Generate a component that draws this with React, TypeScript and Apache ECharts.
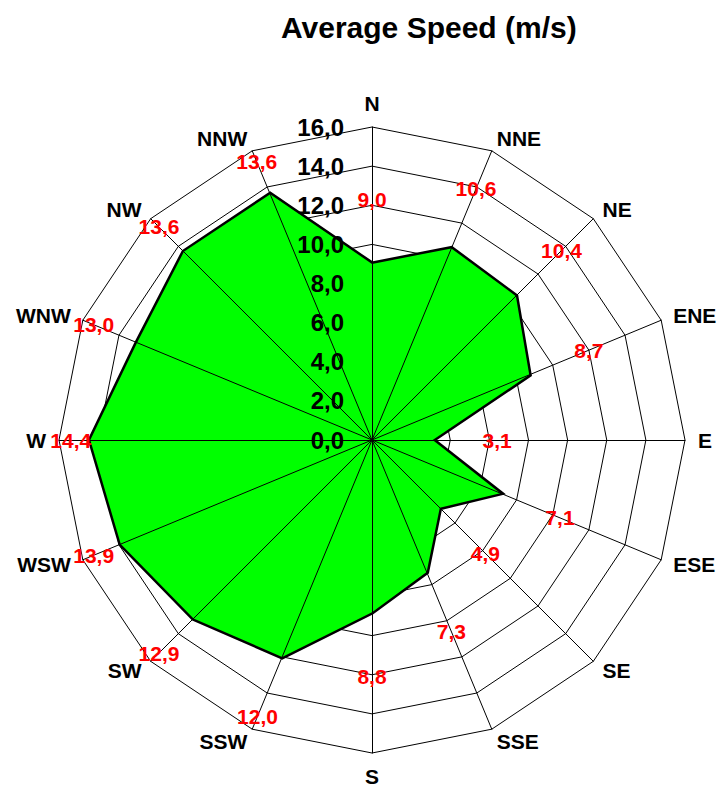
import React, { useEffect, useRef } from "react";
import * as echarts from "echarts";

const directions = ["N", "NNE", "NE", "ENE", "E", "ESE", "SE", "SSE", "S", "SSW", "SW", "WSW", "W", "WNW", "NW", "NNW"];
const speeds = [9.0, 10.6, 10.4, 8.7, 3.1, 7.1, 4.9, 7.3, 8.8, 12.0, 12.9, 13.9, 14.4, 13.0, 13.6, 13.6];
const axisMin = 0;
const axisMax = 16;
const axisStep = 2;
const titleText = "Average Speed (m/s)";

const FONT = "Liberation Sans, Arial, sans-serif";
const fmt = (v: number) => v.toFixed(1).replace(".", ",");

export default function App() {
  const ref = useRef<HTMLDivElement>(null);
  useEffect(() => {
    if (!ref.current) return;
    const chart = echarts.init(ref.current, null, { renderer: "svg" });
    // ECharts radar runs counter-clockwise: reorder so that it reads N, NNE, ... clockwise
    const order = directions.map((_, i) => (i === 0 ? 0 : directions.length - i));
    const names = order.map((i) => directions[i]);
    const vals = order.map((i) => speeds[i]);
    const labelPos = vals.map((v) => Math.min(v + 3.3, 15.4));
    const splitNumber = (axisMax - axisMin) / axisStep;
    const common = {
      center: [372, 440],
      radius: 313,
      shape: "polygon" as const,
      splitNumber,
      splitArea: { show: false },
    };
    chart.setOption({
      animation: false,
      title: {
        text: titleText,
        left: 276,
        top: 7,
        textStyle: { fontFamily: FONT, fontWeight: "bold", fontSize: 30, color: "#000" },
      },
      radar: [
        {
          ...common,
          z: 0,
          indicator: names.map((n) => ({ name: n, min: axisMin, max: axisMax })),
          nameGap: 13,
          axisName: { color: "#000", fontFamily: FONT, fontWeight: "bold", fontSize: 21 },
          splitLine: { show: true, lineStyle: { color: "#000", width: 1 } },
          axisLine: { show: false },
          axisTick: { show: false },
          axisLabel: { show: false },
        },
        {
          ...common,
          z: 3,
          indicator: names.map((n, k) =>
            k === 0
              ? { name: n, min: axisMin, max: axisMax, axisLabel: { show: true } }
              : { name: n, min: axisMin, max: axisMax }
          ),
          axisName: { show: false },
          splitLine: { show: false },
          axisLine: { show: true, lineStyle: { color: "#000", width: 1 } },
          axisTick: { show: false },
          axisLabel: {
            show: false,
            color: "#000",
            fontFamily: FONT,
            fontWeight: "bold",
            fontSize: 24,
            margin: 28,
            formatter: (v: number) => fmt(v),
          },
        },
      ],
      series: [
        {
          type: "radar",
          radarIndex: 0,
          z: 2,
          symbol: "none",
          itemStyle: { color: "#000" },
          lineStyle: { color: "#000", width: 5, opacity: 1, join: "miter" },
          areaStyle: { color: "#00ff00", opacity: 1 },
          data: [{ value: vals }],
        },
        {
          type: "radar",
          radarIndex: 0,
          z: 4,
          symbol: "circle",
          symbolSize: 1,
          itemStyle: { color: "transparent" },
          lineStyle: { width: 0, opacity: 0 },
          label: {
            show: true,
            position: "inside",
            color: "#ff0000",
            fontFamily: FONT,
            fontWeight: "bold",
            fontSize: 21,
            formatter: (p: any) => fmt(vals[p.dimensionIndex]),
          },
          data: [{ value: labelPos }],
        },
      ],
    });
    return () => chart.dispose();
  }, []);
  return (
    <div
      ref={ref}
      style={{ position: "absolute", left: 0, top: 0, width: 720, height: 789, background: "#fff" }}
    />
  );
}
